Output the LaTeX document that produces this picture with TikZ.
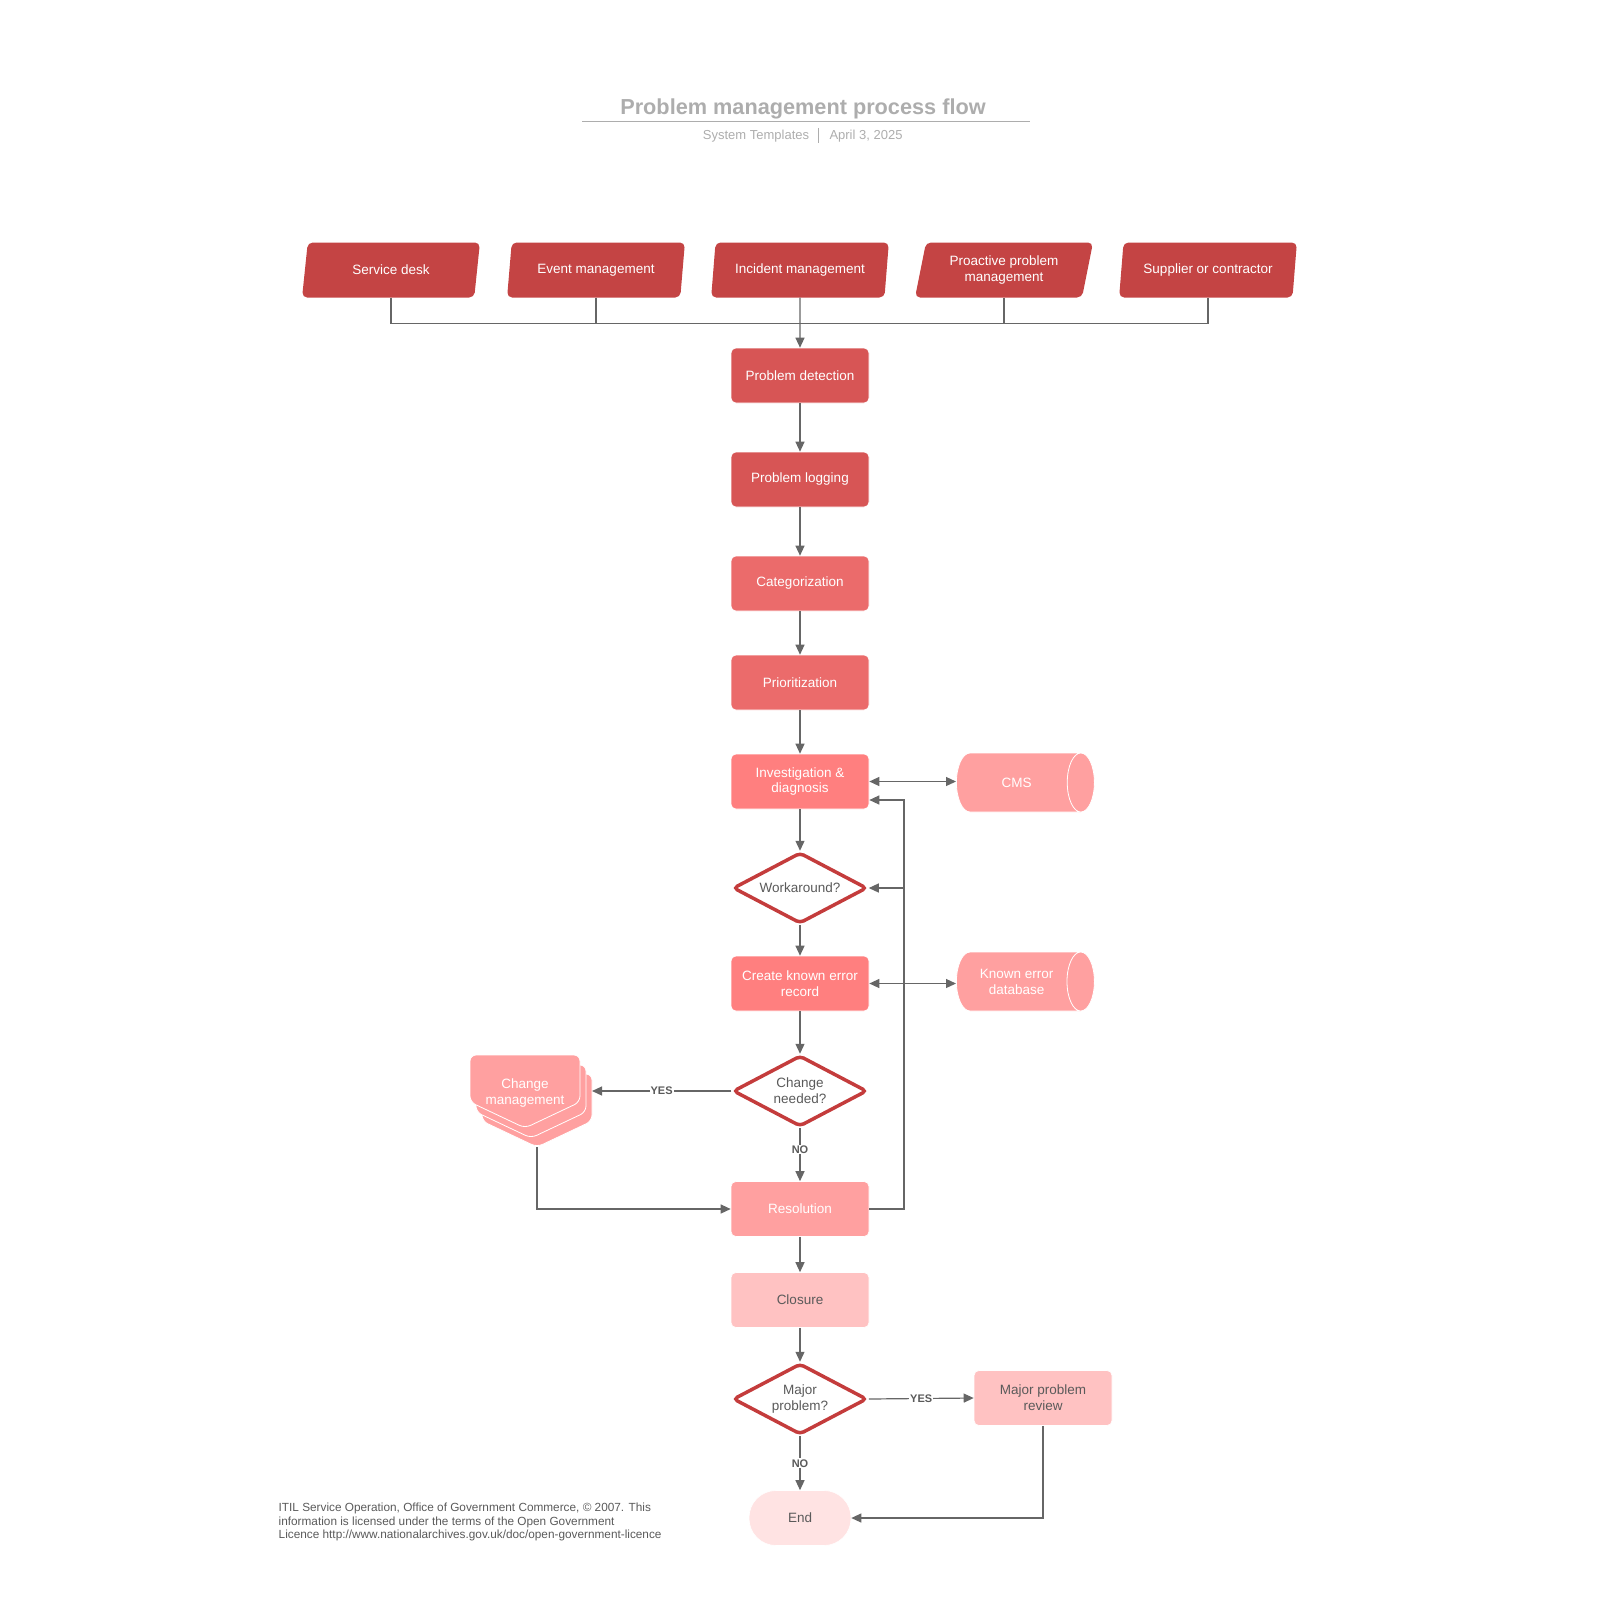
\documentclass[tikz,border=0pt]{standalone}
\usepackage{fontspec}
\setmainfont{Liberation Sans}
\usetikzlibrary{positioning,arrows.meta,shapes.geometric}

\definecolor{srcred}{HTML}{C44444}
\definecolor{shadeA}{HTML}{D75555}
\definecolor{shadeB}{HTML}{EB6B6B}
\definecolor{shadeC}{HTML}{FF7F7F}
\definecolor{shadeD}{HTML}{FFA0A0}
\definecolor{shadeE}{HTML}{FFC2C2}
\definecolor{shadeF}{HTML}{FFE3E3}
\definecolor{lineg}{HTML}{666666}
\definecolor{textg}{HTML}{5A5A5A}
\definecolor{titleg}{HTML}{ADADAD}
\definecolor{decred}{HTML}{C43C3C}

\tikzset{
  boxtext/.style={font=\fontsize{13.5}{16}\selectfont},
  src/.style={trapezium, trapezium left angle=75, trapezium right angle=105,
    trapezium stretches=true, minimum width=178pt, minimum height=55pt,
    fill=srcred, text=white, rounded corners=5pt, align=center, inner sep=0pt, boxtext},
  proc/.style={rectangle, minimum width=138pt, minimum height=55pt, rounded corners=5pt,
    text=white, align=center, inner sep=0pt, draw=white, line width=0.6pt, boxtext},
  dec/.style={diamond, aspect=1.9, minimum width=134pt, minimum height=71pt, inner sep=0pt,
    draw=decred, line width=3.5pt, fill=white, rounded corners=4pt, text=textg,
    align=center, boxtext},
  store/.style={cylinder, shape border rotate=0, minimum width=59pt,
    minimum height=138pt, inner sep=1pt, cylinder uses custom fill, cylinder body fill=shadeD,
    cylinder end fill=shadeD, draw=white, line width=0.8pt, text=white, align=center,
    anchor=west, boxtext},
  chgsheet/.style={fill=shadeD, draw=white, line width=0.8pt, rounded corners=6pt},
  arr/.style={draw=lineg, line width=1.2pt, -{Triangle[length=10pt,width=9pt]}},
  arrboth/.style={draw=lineg, line width=1.2pt, {Triangle[length=10pt,width=9pt]}-{Triangle[length=10pt,width=9pt]}},
  link/.style={draw=lineg, line width=1.2pt},
  yn/.style={font=\fontsize{11}{13}\selectfont\bfseries, text=textg, fill=white, inner sep=1pt}
}

\begin{document}
\begin{tikzpicture}[x=1pt, y=-1pt]
\useasboundingbox (0,0) rectangle (1600,1600);
% title block
\node[font=\fontsize{21.7}{26}\selectfont\bfseries, text=titleg] (title) at (803,109) {Problem management process flow};
\draw[titleg, line width=1.5pt] (582,121.5) -- (1030,121.5);
\node[font=\fontsize{13}{15}\selectfont, text=titleg] (sub1) at (756,136) {System Templates};
\node[font=\fontsize{13}{15}\selectfont, text=titleg] (sub2) at (866,136) {April 3, 2025};
\draw[titleg, line width=1pt] (818,128) -- (818,143);

% sources
\node[src] (sd) at (391,270) {Service desk};
\node[src] (em) at (596,270) {Event management};
\node[src] (im) at (800,270) {Incident management};
\node[src] (pp) at (1004,270) {Proactive problem\\management};
\node[src] (sc) at (1208,270) {Supplier or contractor};

% main column
\node[proc, fill=shadeA] (pd) at (800,375.5) {Problem detection};
\node[proc, fill=shadeA] (pl) at (800,479.5) {Problem logging};
\node[proc, fill=shadeB] (cat) at (800,583.5) {Categorization};
\node[proc, fill=shadeB] (pri) at (800,682.5) {Prioritization};
\node[proc, fill=shadeC] (inv) at (800,781.5) {Investigation \&\\diagnosis};
\node[dec] (wa) at (800,888) {Workaround?};
\node[proc, fill=shadeC] (ker) at (800,983.5) {Create known error\\record};
\node[dec] (cn) at (800,1091) {Change\\needed?};
\node[proc, fill=shadeD] (res) at (800,1209) {Resolution};
\node[proc, fill=shadeE, text=textg] (clo) at (800,1300) {Closure};
\node[dec] (mp) at (800,1399) {Major\\problem?};
\node[proc, fill=shadeF, text=textg, minimum width=102pt, rounded corners=27pt] (end) at (800,1518) {End};

% side nodes (aspect set per text height, so both ends come out alike)
\node[store, aspect=2.35] (cms) at (956,782.5) {CMS};
\node[store, aspect=1.0] (ked) at (956,981.5) {Known error\\database};
\node[proc, fill=shadeE, text=textg] (mpr) at (1043,1398) {Major problem\\review};
% stacked change sheets, back to front
\foreach \dx/\dy in {12/19,6/10,0/0}
  \draw[chgsheet, shift={(\dx,\dy)}] (470,1055) -- (580,1055) -- (580,1102) -- (525,1128) -- (470,1102) -- cycle;
\node[text=white, align=center, boxtext] (chg) at (525,1093) {Change\\management};
\coordinate (chgside) at (592,1091);
\coordinate (chgtip) at (537,1147);

% connectors
\coordinate (bus) at (800,323.5);
\foreach \s in {sd,em,pp,sc}
  \draw[link] (\s.south) |- (bus);
\draw[arr] (im.south) -- (pd.north);
\foreach \a/\b in {pd/pl,pl/cat,cat/pri,pri/inv,inv/wa,wa/ker,ker/cn,res/clo,clo/mp}
  \draw[arr] (\a.south) -- (\b.north);
\draw[arrboth] (inv.east) -- (inv.east -| cms.west);
\draw[arrboth] (ker.east) -- (ker.east -| ked.west);
\draw[arr] (cn.west) -- node[yn] {YES} (chgside);
\draw[arr] (cn.south) -- node[yn, pos=0.4] {NO} (res.north);
\draw[arr] (chgtip) |- (res.west);
\coordinate (fbtop) at (904,800);
\draw[arr] (res.east) -| (fbtop) -- (fbtop -| inv.east);
\draw[arr] (fbtop |- wa.east) -- (wa.east);
\draw[arr] (mp.east) -- node[yn] {YES} (mpr.west);
\draw[arr] (mp.south) -- node[yn] {NO} (end.north);
\draw[arr] (mpr.south) |- (end.east);

% footnote
\node[anchor=north west, align=left, inner sep=0pt, text=textg,
  font=\fontsize{11.8}{13.3}\selectfont] (note) at (278.5,1503) {ITIL Service Operation, Office of Government Commerce, \textcopyright{} 2007. This\\information is licensed under the terms of the Open Government\\Licence http://www.nationalarchives.gov.uk/doc/open-government-licence};
\end{tikzpicture}
\end{document}
